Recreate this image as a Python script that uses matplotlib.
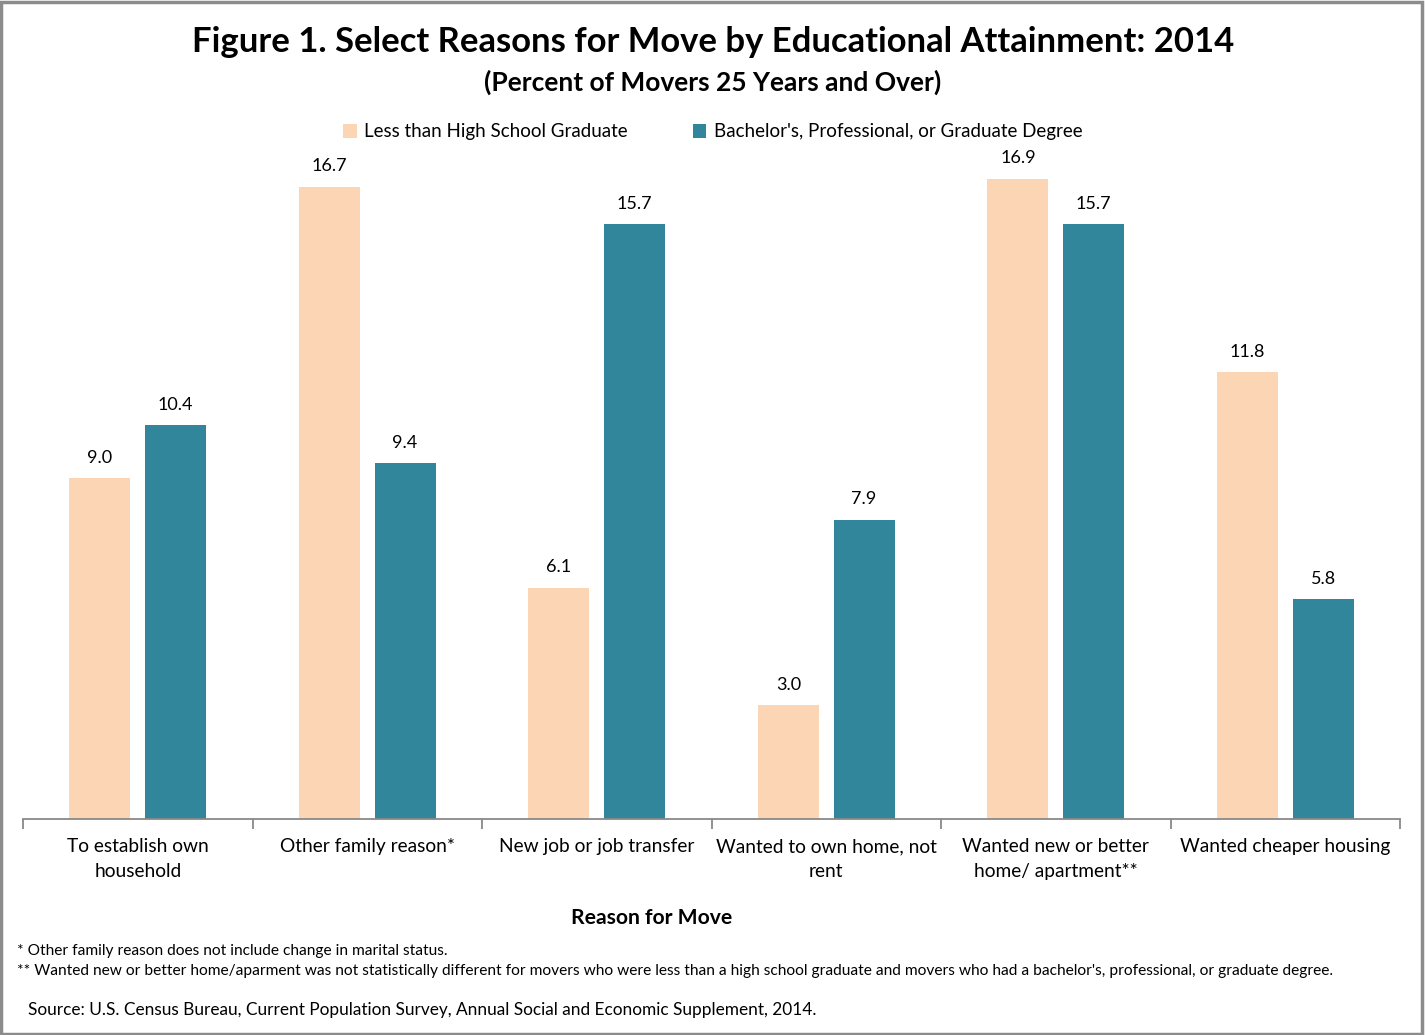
import numpy as np
import matplotlib.pyplot as plt
from matplotlib.patches import Rectangle

# dados
categorias = ['To establish own\nhousehold', 'Other family reason*', 'New job or job transfer',
              'Wanted to own home, not\nrent', 'Wanted new or better\nhome/ apartment**',
              'Wanted cheaper housing']
menos_ensino_medio = [9.0, 16.7, 6.1, 3.0, 16.9, 11.8]
superior = [10.4, 9.4, 15.7, 7.9, 15.7, 5.8]
series = ['Less than High School Graduate', "Bachelor's, Professional, or Graduate Degree"]

cor1 = '#FCD5B5'
cor2 = '#31869B'
plt.rcParams['font.family'] = ['Lato', 'DejaVu Sans']

fig = plt.figure(figsize=(14.25, 10.35), dpi=100)
ax = fig.add_axes([23/1425, 216/1035, (1400-23)/1425, 659/1035])

x = np.arange(len(categorias))
w = 0.265
off = 0.165
b1 = ax.bar(x - off, menos_ensino_medio, w, color=cor1, label=series[0])
b2 = ax.bar(x + off, superior, w, color=cor2, label=series[1])

for bars, vals in [(b1, menos_ensino_medio), (b2, superior)]:
    for r, v in zip(bars, vals):
        ax.annotate('{:.1f}'.format(v), (r.get_x() + r.get_width()/2, v), xytext=(0, 9),
                    textcoords='offset points', ha='center', va='bottom', fontsize=13)

ax.set_xlim(-0.5, len(categorias) - 0.5)
ax.set_ylim(0, 659/37.87)
ax.set_yticks([])
for s in ['left', 'right', 'top']:
    ax.spines[s].set_visible(False)
ax.spines['bottom'].set_color('#898989')
ax.spines['bottom'].set_linewidth(1.3)

ax.set_xticks(x)
ax.set_xticklabels(categorias, fontsize=13.8, linespacing=1.55)
ax.tick_params(axis='x', which='major', length=0, pad=14)
ax.set_xticks(np.arange(-0.5, len(categorias)), minor=True)
ax.tick_params(axis='x', which='minor', length=7, width=1.3, color='#898989')

# titulos
fig.text(713/1425, 1 - 42/1035, 'Figure 1. Select Reasons for Move by Educational Attainment: 2014',
         ha='center', va='center', fontsize=24.9, fontweight='bold')
fig.text(713/1425, 1 - 82/1035, '(Percent of Movers 25 Years and Over)',
         ha='center', va='center', fontsize=19, fontweight='bold')

leg = fig.legend(handles=[b1, b2], loc='center', bbox_to_anchor=(713/1425, 1 - 132/1035),
                 ncol=2, frameon=False, fontsize=13.5, handlelength=0.7, handleheight=0.7,
                 handletextpad=0.4, columnspacing=3.5)

fig.text(652/1425, 1 - 918/1035, 'Reason for Move', ha='center', va='center',
         fontsize=15.2, fontweight='bold')

fig.text(17/1425, 1 - 951/1035, '* Other family reason does not include change in marital status.',
         ha='left', va='center', fontsize=11.2)
fig.text(17/1425, 1 - 971/1035,
         "** Wanted new or better home/aparment was not statistically different for movers who were less than a high school graduate and movers who had a bachelor's, professional, or graduate degree.",
         ha='left', va='center', fontsize=11.2)
fig.text(28/1425, 1 - 1010/1035,
         'Source: U.S. Census Bureau, Current Population Survey, Annual Social and Economic Supplement, 2014.',
         ha='left', va='center', fontsize=12.4)

# borda
fig.patches.append(Rectangle((0.001, 0.001), 0.997, 0.997, transform=fig.transFigure,
                             fill=False, edgecolor='#8C8C8C', linewidth=2.5))

fig.savefig('out.png', dpi=100)
